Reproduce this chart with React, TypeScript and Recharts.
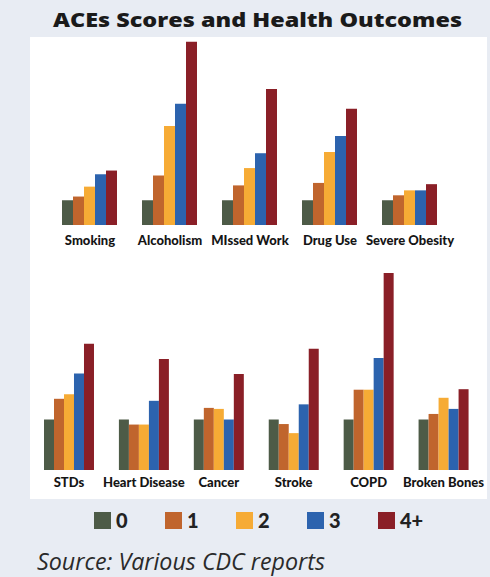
import React from 'react';
import { BarChart, Bar, XAxis, YAxis } from 'recharts';

// Relative risk by ACE score (score 0 = baseline 1.0)
const topCategories = ['Smoking', 'Alcoholism', 'MIssed Work', 'Drug Use', 'Severe Obesity'];
const bottomCategories = ['STDs', 'Heart Disease', 'Cancer', 'Stroke', 'COPD', 'Broken Bones'];

const seriesKeys = ['s0', 's1', 's2', 's3', 's4'];
const seriesNames = ['0', '1', '2', '3', '4+'];
const seriesColors = ['#4d5b47', '#c0652d', '#f6ab35', '#2c63ae', '#8a1f27'];

const topScore0 = [1, 1, 1, 1, 1];
const topScore1 = [1.15, 2.0, 1.6, 1.7, 1.2];
const topScore2 = [1.55, 4.0, 2.3, 2.95, 1.4];
const topScore3 = [2.05, 4.9, 2.9, 3.6, 1.4];
const topScore4 = [2.2, 7.4, 5.5, 4.7, 1.65];

const bottomScore0 = [1, 1, 1, 1, 1, 1];
const bottomScore1 = [1.41, 0.9, 1.23, 0.91, 1.59, 1.11];
const bottomScore2 = [1.5, 0.9, 1.21, 0.73, 1.59, 1.43];
const bottomScore3 = [1.91, 1.37, 1.0, 1.3, 2.22, 1.21];
const bottomScore4 = [2.5, 2.2, 1.9, 2.4, 3.9, 1.6];

const topData = topCategories.map((name, i) => ({
  name,
  s0: topScore0[i],
  s1: topScore1[i],
  s2: topScore2[i],
  s3: topScore3[i],
  s4: topScore4[i],
}));

const bottomData = bottomCategories.map((name, i) => ({
  name,
  s0: bottomScore0[i],
  s1: bottomScore1[i],
  s2: bottomScore2[i],
  s3: bottomScore3[i],
  s4: bottomScore4[i],
}));

const tickStyle = {
  fill: '#151515',
  fontSize: 13,
  fontWeight: 900,
  fontFamily: 'Lato, sans-serif',
};

function SeriesBars() {
  return seriesKeys.map((k, i) => (
    <Bar key={k} dataKey={k} name={seriesNames[i]} fill={seriesColors[i]} isAnimationActive={false} />
  ));
}

export default function App() {
  return (
    <div
      style={{
        position: 'absolute',
        left: 0,
        top: 0,
        width: 490,
        height: 577,
        background: '#e8ecf3',
        overflow: 'hidden',
      }}
    >
      {/* white panel behind the charts */}
      <div
        style={{
          position: 'absolute',
          left: 30,
          top: 37,
          width: 457,
          height: 462,
          background: '#ffffff',
        }}
      />

      <svg width={490} height={577} style={{ position: 'absolute', left: 0, top: 0 }}>
        <text
          x={257.5}
          y={27}
          textAnchor="middle"
          textLength={409}
          lengthAdjust="spacingAndGlyphs"
          fontFamily="'Open Sans', sans-serif"
          fontWeight={800}
          fontSize={20}
          fill="#1a1a1a"
        >
          ACEs Scores and Health Outcomes
        </text>
        <text
          x={37}
          y={570}
          textLength={288}
          lengthAdjust="spacingAndGlyphs"
          fontFamily="'Open Sans', sans-serif"
          fontStyle="italic"
          fontSize={23}
          fill="#2a2a2a"
        >
          Source: Various CDC reports
        </text>
      </svg>

      <div style={{ position: 'absolute', left: 0, top: 0 }}>
        <BarChart
          width={490}
          height={260}
          data={topData}
          margin={{ top: 27, right: 40, bottom: 0, left: 50 }}
          barCategoryGap="15%"
          barGap={0}
        >
          <XAxis
            dataKey="name"
            height={35}
            axisLine={false}
            tickLine={false}
            tickMargin={5}
            interval={0}
            tick={tickStyle}
          />
          <YAxis hide domain={[0, 8]} />
          {SeriesBars()}
        </BarChart>
      </div>

      <div style={{ position: 'absolute', left: 0, top: 250 }}>
        <BarChart
          width={490}
          height={255}
          data={bottomData}
          margin={{ top: 18, right: 9, bottom: 0, left: 31.5 }}
          barCategoryGap="16.67%"
          barGap={0}
        >
          <XAxis
            dataKey="name"
            height={35}
            axisLine={false}
            tickLine={false}
            tickMargin={2}
            interval={0}
            tick={tickStyle}
          />
          <YAxis hide domain={[0, 4]} />
          {SeriesBars()}
        </BarChart>
      </div>

      {/* legend built from the series definitions */}
      <div
        style={{
          position: 'absolute',
          left: 94,
          top: 512,
          display: 'flex',
          alignItems: 'center',
          fontFamily: 'Lato, sans-serif',
          fontWeight: 900,
          fontSize: 20,
          color: '#222',
          lineHeight: '17px',
        }}
      >
        {seriesNames.map((n, i) => (
          <div key={n} style={{ display: 'flex', alignItems: 'center', width: 71 }}>
            <div style={{ width: 17, height: 17, background: seriesColors[i], marginRight: 5 }} />
            <span>{n}</span>
          </div>
        ))}
      </div>
    </div>
  );
}
